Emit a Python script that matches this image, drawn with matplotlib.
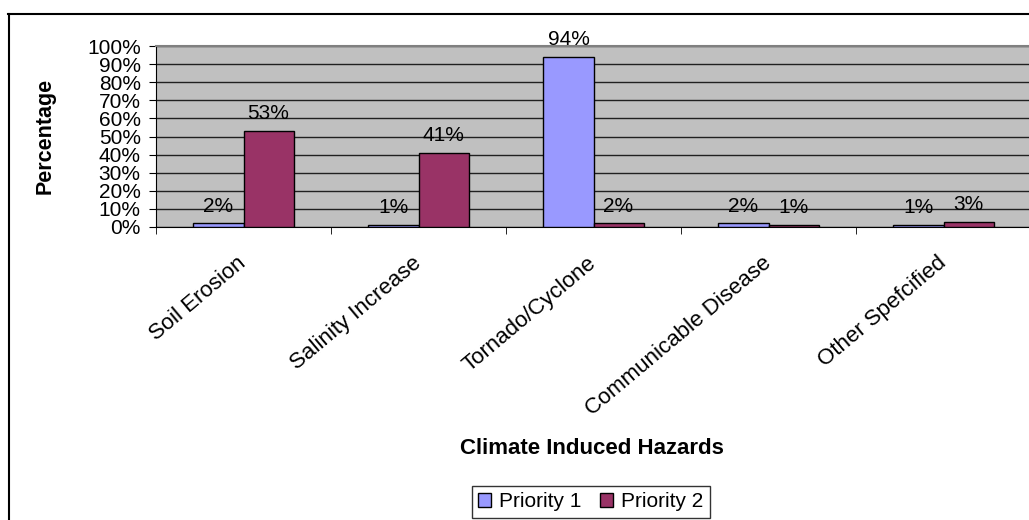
import matplotlib.pyplot as plt
import numpy as np
from matplotlib.lines import Line2D

plt.rcParams["font.family"] = ["Liberation Sans", "DejaVu Sans"]

categories = ["Soil Erosion", "Salinity Increase", "Tornado/Cyclone",
              "Communicable Disease", "Other Spefcified"]
priority1 = [2, 1, 94, 2, 1]
priority2 = [53, 41, 2, 1, 3]
series_names = ["Priority 1", "Priority 2"]

W, H = 1029, 520
fig = plt.figure(figsize=(W / 100, H / 100), dpi=100)

# outer chart box (only top and left edges are inside the picture)
fig.add_artist(Line2D([8.5 / W, 8.5 / W], [0, 1 - 14 / H], color="black", lw=1.5))
fig.add_artist(Line2D([8 / W, 1], [1 - 14 / H, 1 - 14 / H], color="black", lw=1.5))

left, right, top, bottom = 156, 1031, 46, 227
ax = fig.add_axes([left / W, 1 - bottom / H, (right - left) / W, (bottom - top) / H])
ax.set_facecolor("#C0C0C0")

fs = 15
x = np.arange(len(categories))
bw = 0.286
b1 = ax.bar(x - bw / 2, priority1, bw, color="#9999FF", edgecolor="black", lw=1, zorder=3,
            label=series_names[0])
b2 = ax.bar(x + bw / 2, priority2, bw, color="#993366", edgecolor="black", lw=1, zorder=3,
            label=series_names[1])
for bars, vals in [(b1, priority1), (b2, priority2)]:
    for r, v in zip(bars, vals):
        ax.annotate("%d%%" % v, (r.get_x() + r.get_width() / 2, v), xytext=(0, 8.5),
                    textcoords="offset points", ha="center", va="baseline",
                    fontsize=fs, zorder=4, annotation_clip=False)

ax.set_xlim(-0.5, len(categories) - 0.5)
ax.set_ylim(0, 100)
ax.set_yticks(np.arange(0, 101, 10))
ax.set_yticklabels(["%d%%" % v for v in range(0, 101, 10)], fontsize=fs)
ax.yaxis.grid(True, color="#202020", lw=1, zorder=1)
ax.tick_params(axis="y", length=5, pad=6)

ax.set_xticks(x)
ax.set_xticklabels(categories, rotation=40, ha="right", va="center", rotation_mode="anchor",
                   fontsize=16)
ax.tick_params(axis="x", length=0, pad=24)
ax.set_xticks(np.arange(-0.5, len(categories) + 0.5, 1), minor=True)
ax.tick_params(axis="x", which="minor", length=5, direction="out")

ax.spines["right"].set_visible(False)
ax.spines["top"].set_color("#808080")
ax.spines["top"].set_linewidth(1.5)

fig.text(45 / W, 1 - 136 / H, "Percentage", rotation=90, ha="center", va="center",
         fontsize=15.5, fontweight="bold")
fig.text(592 / W, 1 - 449 / H, "Climate Induced Hazards", ha="center", va="center",
         fontsize=16, fontweight="bold")

leg = fig.legend(loc="upper center", bbox_to_anchor=(591 / W, 1 - 486 / H), ncol=2, fontsize=fs,
                 frameon=True, fancybox=False, edgecolor="black", handlelength=0.6,
                 handleheight=0.6, handletextpad=0.4, columnspacing=0.9, borderpad=0.3,
                 borderaxespad=0)
leg.get_frame().set_linewidth(1)

fig.savefig("out.png", dpi=100)
